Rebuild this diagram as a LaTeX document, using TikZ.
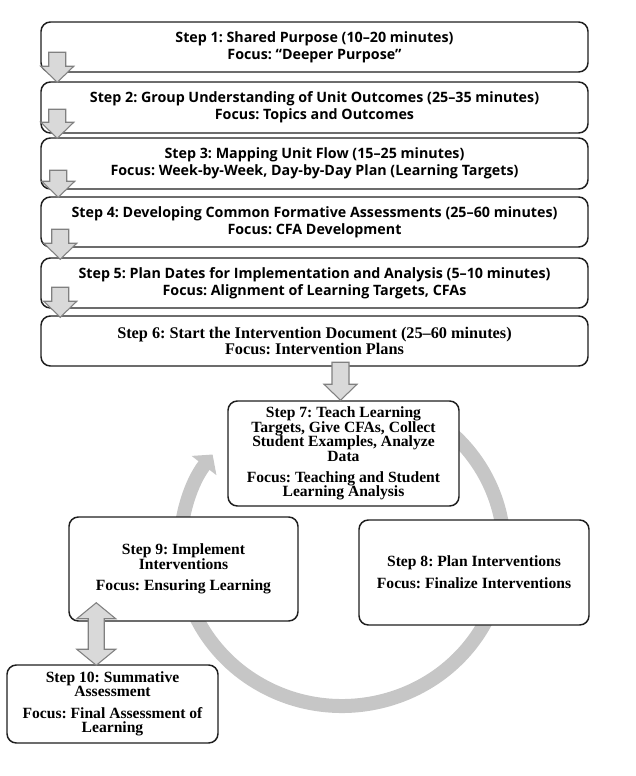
\documentclass[tikz,border=0pt]{standalone}
\usepackage{fontspec}
\setmainfont{Liberation Serif}
\newfontfamily\sansfam{Open Sans}
\usetikzlibrary{calc,arrows.meta}
\definecolor{boxline}{HTML}{1E1E1E}
\definecolor{arrfill}{HTML}{D9D9D9}
\definecolor{arrline}{HTML}{808080}
\definecolor{cyc}{HTML}{C6C6C6}
\tikzset{
  stepbox/.style={draw=boxline, line width=1.1pt, rounded corners=7pt, fill=white,
    align=center, inner sep=0pt},
  sansbox/.style={stepbox, font=\frenchspacing\sansfam\bfseries\fontsize{10.7}{12.75}\selectfont,
    minimum width={547*0.75pt}},
  serifbox/.style={stepbox, font=\frenchspacing\bfseries\fontsize{11.7}{10.8}\selectfont},
  barrow/.style={fill=arrfill, draw=arrline, line width=0.8pt, line join=miter},
  cycarrow/.style={draw=cyc, line width={14*0.75pt},
    -{Triangle[length=10.5pt, width=23pt]}}
}
% vertical block arrow: #1 = tip coordinate, #2 = total length (px)
\newcommand\downblock[2]{%
  \draw[barrow] ($(#1)+(-8.5,-#2)$) -- ($(#1)+(8.5,-#2)$) -- ($(#1)+(8.5,-16)$)
    -- ($(#1)+(16.5,-16)$) -- (#1) -- ($(#1)+(-16.5,-16)$) -- ($(#1)+(-8.5,-16)$) -- cycle;}
\begin{document}
\begin{tikzpicture}[x=0.75pt,y=-0.75pt]
\useasboundingbox (0,0) rectangle (636,776);

% cycle arc (behind the boxes)
\coordinate (cc) at (342,549);
\draw[cycarrow] ($(cc)+(-60:162 and 157)$) arc[start angle=-60, end angle=217, x radius=162, y radius=157];

% linear steps
\node[sansbox, minimum height={50*0.75pt}] (s1) at (314.5,47)
  {Step 1: Shared Purpose (10–20 minutes)\\Focus: “Deeper Purpose”};
\node[sansbox, minimum height={51*0.75pt}] (s2) at (314.5,107.5)
  {Step 2: Group Understanding of Unit Outcomes (25–35 minutes)\\Focus: Topics and Outcomes};
\node[sansbox, minimum height={51*0.75pt}] (s3) at (314.5,163.5)
  {Step 3: Mapping Unit Flow (15–25 minutes)\\Focus: Week-by-Week, Day-by-Day Plan (Learning Targets)};
\node[sansbox, minimum height={50*0.75pt}] (s4) at (314.5,222)
  {Step 4: Developing Common Formative Assessments (25–60 minutes)\\Focus: CFA Development};
\node[sansbox, minimum height={50*0.75pt}] (s5) at (314.5,283)
  {Step 5: Plan Dates for Implementation and Analysis (5–10 minutes)\\Focus: Alignment of Learning Targets, CFAs};
\node[stepbox, font=\frenchspacing\bfseries\fontsize{12.2}{11.8}\selectfont, minimum width={547*0.75pt}, minimum height={50*0.75pt}] (s6) at (314.5,341)
  {Step 6: Start the Intervention Document (25–60 minutes)\\Focus: Intervention Plans};

% cycle steps
\node[serifbox, minimum width={231*0.75pt}, minimum height={105*0.75pt}] (s7) at (343.5,453.5)
  {Step 7: Teach Learning\\Targets, Give CFAs, Collect\\Student Examples, Analyze\\Data\\[5pt]Focus: Teaching and Student\\Learning Analysis};
\node[serifbox, minimum width={230*0.75pt}, minimum height={105*0.75pt}] (s8) at (474,572.5)
  {Step 8: Plan Interventions\\[5.5pt]Focus: Finalize Interventions};
\node[serifbox, minimum width={229*0.75pt}, minimum height={104*0.75pt}] (s9) at (183.5,569)
  {Step 9: Implement\\Interventions\\[5.5pt]Focus: Ensuring Learning};
\node[serifbox, minimum width={211*0.75pt}, minimum height={78*0.75pt}] (s10) at (112.5,704)
  {Step 10: Summative\\Assessment\\[5.5pt]Focus: Final Assessment of\\Learning};

% block arrows between the linear steps
\coordinate (t1) at ($(s2.north west)+(17,1)$);
\coordinate (t2) at ($(s3.north west)+(17,1)$);
\coordinate (t3) at ($(s4.north west)+(18,1)$);
\coordinate (t4) at ($(s5.north west)+(20,2)$);
\coordinate (t5) at ($(s6.north west)+(20,2)$);
\coordinate (t6) at ($(s7.north)+(-3,0)$);
\downblock{t1}{30}
\downblock{t2}{29}
\downblock{t3}{27}
\downblock{t4}{30}
\downblock{t5}{30}
\downblock{t6}{38}

% double block arrow between step 9 and step 10
\coordinate (d1) at ($(s9.south west)+(28,-19)$);
\coordinate (d2) at ($(s10.north west)+(90,1)$);
\draw[barrow] (d1) -- ($(d1)+(19.5,16)$) -- ($(d1)+(8,16)$) -- ($(d2)+(8,-16)$)
  -- ($(d2)+(19.5,-16)$) -- (d2) -- ($(d2)+(-19.5,-16)$) -- ($(d2)+(-8,-16)$)
  -- ($(d1)+(-8,16)$) -- ($(d1)+(-19.5,16)$) -- cycle;
\end{tikzpicture}
\end{document}
